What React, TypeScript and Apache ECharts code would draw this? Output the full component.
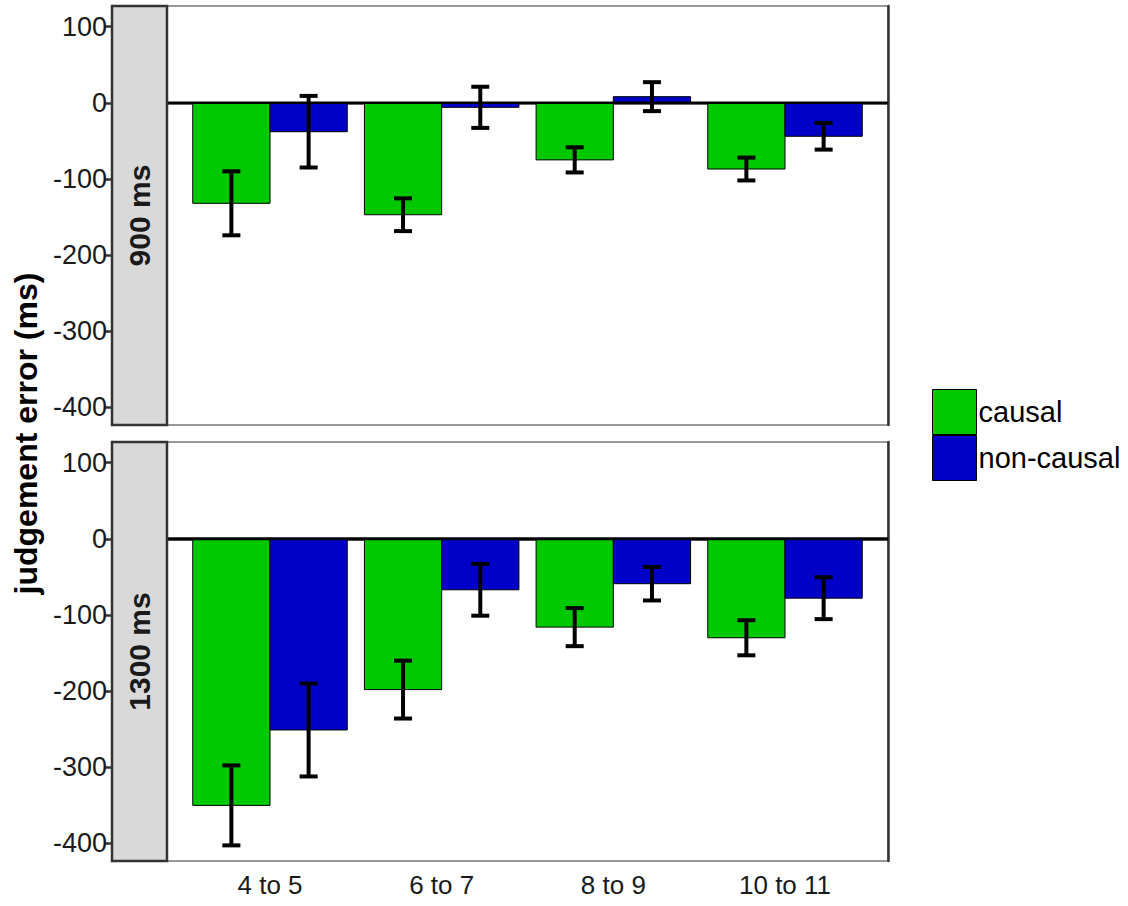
import React, { useEffect, useRef } from "react";
import * as echarts from "echarts";

const categories = ["4 to 5", "6 to 7", "8 to 9", "10 to 11"];
const yTicks = [-400, -300, -200, -100, 0, 100];
const panelLabels = ["900 ms", "1300 ms"];
const seriesNames = ["causal", "non-causal"];

const causal900 = [-132, -147, -75, -87];
const causal900Err = [42, 21.5, 16.5, 15];
const noncausal900 = [-38, -6, 8, -44];
const noncausal900Err = [47, 27, 19, 17.5];

const causal1300 = [-350, -198, -116, -130];
const causal1300Err = [52.5, 38, 25, 23];
const noncausal1300 = [-251, -67, -59, -78];
const noncausal1300Err = [61, 34, 22, 27.5];

const GREEN = "#00c800";
const BLUE = "#0000c8";
const AXIS = "#333333";

const Y_MIN = -423;
const Y_MAX = 127;
const X_MIN = 0.4;
const X_MAX = 4.6;
const BAR_W = 0.45;
const CAP_W = 0.105;

const GRID_LEFT = 167;
const GRID_WIDTH = 721;
const GRID_HEIGHT = 419;
const GRID_TOPS = [6, 442];
const STRIP_W = 55;

function barRender(side: number, color: string) {
  return (params: any, api: any) => {
    const x = api.value(0);
    const v = api.value(1);
    const x0 = side < 0 ? x - BAR_W : x;
    const x1 = side < 0 ? x : x + BAR_W;
    const p0 = api.coord([x0, 0]);
    const p1 = api.coord([x1, v]);
    return {
      type: "rect",
      shape: {
        x: p0[0],
        y: Math.min(p0[1], p1[1]),
        width: p1[0] - p0[0],
        height: Math.abs(p1[1] - p0[1]),
      },
      style: { fill: color, stroke: "#000", lineWidth: 1 },
    };
  };
}

function errRender(params: any, api: any) {
  const x = api.value(0);
  const lo = api.value(1);
  const hi = api.value(2);
  const top = api.coord([x, hi]);
  const bot = api.coord([x, lo]);
  const l = api.coord([x - CAP_W / 2, hi]);
  const r = api.coord([x + CAP_W / 2, hi]);
  const lb = api.coord([x - CAP_W / 2, lo]);
  const rb = api.coord([x + CAP_W / 2, lo]);
  const st = { stroke: "#000", lineWidth: 4 };
  return {
    type: "group",
    children: [
      { type: "line", shape: { x1: top[0], y1: top[1], x2: bot[0], y2: bot[1] }, style: st },
      { type: "line", shape: { x1: l[0], y1: l[1], x2: r[0], y2: r[1] }, style: st },
      { type: "line", shape: { x1: lb[0], y1: lb[1], x2: rb[0], y2: rb[1] }, style: st },
    ],
  };
}

function panelSeries(
  panel: number,
  causal: number[],
  causalErr: number[],
  non: number[],
  nonErr: number[]
) {
  const xi = panel;
  const yi = panel * 2;
  return [
    {
      name: seriesNames[0],
      type: "custom",
      xAxisIndex: xi,
      yAxisIndex: yi,
      itemStyle: { color: GREEN },
      renderItem: barRender(-1, GREEN),
      data: causal.map((v, i) => [i + 1, v]),
      z: 2,
    },
    {
      name: seriesNames[1],
      type: "custom",
      xAxisIndex: xi,
      yAxisIndex: yi,
      itemStyle: { color: BLUE },
      renderItem: barRender(1, BLUE),
      data: non.map((v, i) => [i + 1, v]),
      z: 2,
    },
    {
      type: "line",
      xAxisIndex: xi,
      yAxisIndex: yi,
      symbol: "none",
      silent: true,
      lineStyle: { color: "#000", width: panel === 0 ? 2.5 : 3 },
      data: [
        [X_MIN, 0],
        [X_MAX, 0],
      ],
      z: 4,
    },
    {
      type: "custom",
      xAxisIndex: xi,
      yAxisIndex: yi,
      renderItem: errRender,
      data: causal.map((v, i) => [i + 1 - BAR_W / 2, v - causalErr[i], v + causalErr[i]]),
      z: 5,
    },
    {
      type: "custom",
      xAxisIndex: xi,
      yAxisIndex: yi,
      renderItem: errRender,
      data: non.map((v, i) => [i + 1 + BAR_W / 2, v - nonErr[i], v + nonErr[i]]),
      z: 5,
    },
  ];
}

export default function App() {
  const ref = useRef<HTMLDivElement>(null);
  useEffect(() => {
    if (!ref.current) return;
    const chart = echarts.init(ref.current, null, { renderer: "svg" });
    const font = "'Liberation Sans', Arial, sans-serif";

    const grids = GRID_TOPS.map((t) => ({
      left: GRID_LEFT,
      top: t,
      width: GRID_WIDTH,
      height: GRID_HEIGHT,
      show: true,
      borderColor: AXIS,
      borderWidth: 1,
      backgroundColor: "transparent",
    }));

    const xAxes = GRID_TOPS.map((t, i) => ({
      type: "value",
      gridIndex: i,
      min: X_MIN,
      max: X_MAX,
      splitLine: { show: false },
      axisLine: { show: true, lineStyle: { color: AXIS, width: 2.5 } },
      axisTick:
        i === 1
          ? { show: true, customValues: [1, 2, 3, 4], length: 7, lineStyle: { color: AXIS, width: 2.5 } }
          : { show: false },
      axisLabel:
        i === 1
          ? {
              show: true,
              customValues: [1, 2, 3, 4],
              formatter: (v: number) => categories[Math.round(v) - 1] ?? "",
              fontSize: 26,
              color: "#1a1a1a",
              fontFamily: font,
              margin: 11,
            }
          : { show: false },
    }));

    const yAxes: any[] = [];
    GRID_TOPS.forEach((t, i) => {
      yAxes.push({
        type: "value",
        gridIndex: i,
        min: Y_MIN,
        max: Y_MAX,
        offset: STRIP_W,
        position: "left",
        splitLine: { show: false },
        axisLine: { show: true, lineStyle: { color: AXIS, width: 2.5 } },
        axisTick: { show: true, customValues: yTicks, length: 7, lineStyle: { color: AXIS, width: 2.5 } },
        axisLabel: {
          show: true,
          customValues: yTicks,
          fontSize: 27,
          color: "#1a1a1a",
          fontFamily: font,
          margin: 5,
        },
      });
      yAxes.push({
        type: "value",
        gridIndex: i,
        min: Y_MIN,
        max: Y_MAX,
        position: "right",
        splitLine: { show: false },
        axisLine: { show: true, lineStyle: { color: AXIS, width: 2.5 } },
        axisTick: { show: false },
        axisLabel: { show: false },
      });
    });

    const graphics: any[] = [];
    GRID_TOPS.forEach((t, i) => {
      graphics.push({
        type: "rect",
        z: 50,
        shape: { x: GRID_LEFT - STRIP_W, y: t, width: STRIP_W, height: GRID_HEIGHT },
        style: { fill: "#d9d9d9", stroke: AXIS, lineWidth: 2.5 },
      });
      graphics.push({
        type: "text",
        z: 51,
        x: GRID_LEFT - STRIP_W / 2,
        y: t + GRID_HEIGHT / 2,
        rotation: Math.PI / 2,
        style: {
          text: panelLabels[i],
          fontSize: 30,
          fontWeight: "bold",
          fontFamily: font,
          fill: "#1a1a1a",
          align: "center",
          verticalAlign: "middle",
        },
      });
    });
    graphics.push({
      type: "text",
      z: 51,
      x: 26,
      y: (GRID_TOPS[0] + GRID_TOPS[1] + GRID_HEIGHT) / 2,
      rotation: Math.PI / 2,
      style: {
        text: "judgement error (ms)",
        fontSize: 32,
        fontWeight: "bold",
        fontFamily: font,
        fill: "#000",
        align: "center",
        verticalAlign: "middle",
      },
    });

    chart.setOption({
      animation: false,
      grid: grids,
      xAxis: xAxes,
      yAxis: yAxes,
      legend: {
        orient: "vertical",
        left: 932,
        top: 389,
        padding: 0,
        itemGap: 0,
        itemWidth: 44,
        itemHeight: 45,
        selectedMode: false,
        textStyle: { fontSize: 29, color: "#000", fontFamily: font, padding: [0, 0, 0, -3] },
        data: [
          { name: seriesNames[0], icon: "rect", itemStyle: { color: GREEN, borderColor: "#000", borderWidth: 1 } },
          { name: seriesNames[1], icon: "rect", itemStyle: { color: BLUE, borderColor: "#000", borderWidth: 1 } },
        ],
      },
      graphic: graphics,
      series: [
        ...panelSeries(0, causal900, causal900Err, noncausal900, noncausal900Err),
        ...panelSeries(1, causal1300, causal1300Err, noncausal1300, noncausal1300Err),
      ],
    });
    return () => chart.dispose();
  }, []);
  return (
    <div
      ref={ref}
      style={{ position: "fixed", left: 0, top: 0, width: 1128, height: 906, background: "#fff" }}
    />
  );
}
